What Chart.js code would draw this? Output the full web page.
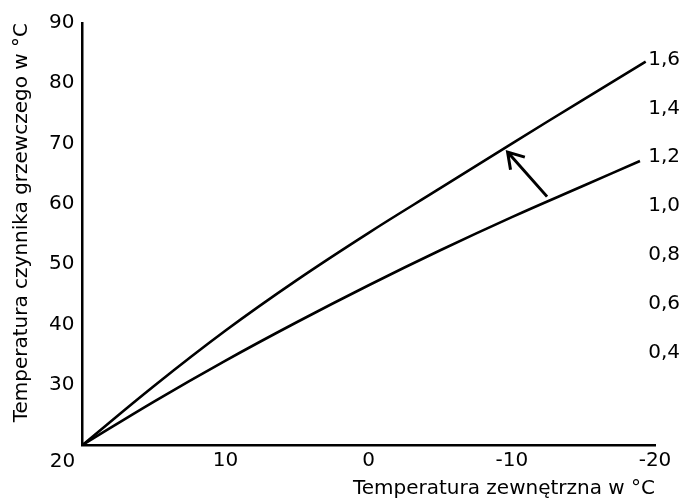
<!DOCTYPE html>
<html>
<head>
<meta charset="utf-8">
<script src="https://cdn.jsdelivr.net/npm/chart.js@4"></script>
<style>
  html, body { margin: 0; padding: 0; background: #fff; }
  #wrap { width: 685px; height: 501px; }
</style>
</head>
<body>
<div id="wrap"><canvas id="chart"></canvas></div>
<script>
// heating curves: outdoor temp -> supply temp
const outdoorTemps16 = [20, 15, 10, 5, 0, -5, -10, -15, -19.35];
const supplyTemps16 = [20, 29.8, 39.0, 47.4, 55.2, 62.6, 70.0, 77.3, 83.6];
const outdoorTemps12 = [20, 15, 10, 5, 0, -5, -10, -15, -18.95];
const supplyTemps12 = [20, 27.2, 34.0, 40.4, 46.5, 52.3, 57.8, 63.0, 67.1];

const curveSlopes = [0.4, 0.6, 0.8, 1.0, 1.2, 1.4, 1.6];
const xTicks = [20, 10, 0, -10, -20];
const yTicks = [20, 30, 40, 50, 60, 70, 80, 90];

const arrowFrom = { x: -12.46, y: 61.2 };
const arrowTo = { x: -9.7, y: 68.6 };

const ink = '#000';
Chart.defaults.font.family = 'DejaVu Sans';
Chart.defaults.font.size = 20;
Chart.defaults.color = ink;

function toPoints(xs, ys) {
  return xs.map((x, i) => ({ x, y: ys[i] }));
}

const extras = {
  id: 'extras',
  afterDatasetsDraw(chart) {
    const { ctx, scales: { x, y } } = chart;
    ctx.save();
    // arrow between the curves
    const x1 = x.getPixelForValue(arrowFrom.x);
    const y1 = y.getPixelForValue(arrowFrom.y);
    const x2 = x.getPixelForValue(arrowTo.x);
    const y2 = y.getPixelForValue(arrowTo.y);
    const ang = Math.atan2(y1 - y2, x1 - x2);
    const len = 18;
    const spread = 0.56;
    ctx.strokeStyle = ink;
    ctx.lineWidth = 3;
    ctx.beginPath();
    ctx.moveTo(x1, y1);
    ctx.lineTo(x2, y2);
    ctx.moveTo(x2 + len * Math.cos(ang - spread), y2 + len * Math.sin(ang - spread));
    ctx.lineTo(x2, y2);
    ctx.lineTo(x2 + len * Math.cos(ang + spread), y2 + len * Math.sin(ang + spread));
    ctx.stroke();

    // shared origin label
    ctx.fillStyle = ink;
    ctx.font = '20px "DejaVu Sans"';
    ctx.textAlign = 'center';
    ctx.textBaseline = 'middle';
    ctx.fillText('20', x.getPixelForValue(xTicks[0]) - 20, y.getPixelForValue(yTicks[0]) + 17);
    ctx.restore();
  }
};

new Chart(document.getElementById('chart'), {
  type: 'line',
  data: {
    datasets: [
      {
        label: '1,6',
        data: toPoints(outdoorTemps16, supplyTemps16),
        borderColor: ink,
        borderWidth: 2.6,
        pointRadius: 0,
        tension: 0.4
      },
      {
        label: '1,2',
        data: toPoints(outdoorTemps12, supplyTemps12),
        borderColor: ink,
        borderWidth: 2.6,
        pointRadius: 0,
        tension: 0.4
      }
    ]
  },
  options: {
    responsive: true,
    maintainAspectRatio: false,
    animation: false,
    events: [],
    layout: { padding: { left: 8, top: 23, right: 0, bottom: 0 } },
    plugins: { legend: { display: false }, tooltip: { enabled: false } },
    scales: {
      x: {
        type: 'linear',
        reverse: true,
        min: -20,
        max: 20,
        afterBuildTicks: (s) => { s.ticks = xTicks.map((v) => ({ value: v })); },
        ticks: {
          autoSkip: false,
          maxRotation: 0,
          padding: 6,
          font: { lineHeight: 1 },
          callback: (v) => (v === 20 ? '' : String(v))
        },
        grid: { display: false, drawTicks: false },
        border: { color: ink, width: 2.5 }
      },
      // second bottom axis only carries the title, right-aligned
      xTitle: {
        type: 'linear',
        position: 'bottom',
        min: -20,
        max: 20,
        ticks: { display: false },
        grid: { display: false, drawTicks: false },
        border: { display: false },
        title: {
          display: true,
          text: 'Temperatura zewnętrzna w °C',
          align: 'end',
          padding: { top: 0, bottom: 0 }
        }
      },
      y: {
        min: 20,
        max: 90,
        afterBuildTicks: (s) => { s.ticks = yTicks.map((v) => ({ value: v })); },
        ticks: {
          padding: 8,
          callback: (v) => (v === 20 ? '' : String(v))
        },
        grid: { display: false, drawTicks: false },
        border: { color: ink, width: 2.5 },
        title: {
          display: true,
          text: 'Temperatura czynnika grzewczego w °C',
          align: 'end',
          padding: { top: 2, bottom: 7 }
        }
      },
      // curve labels drawn just past the end of the x axis
      y2: {
        position: 'right',
        min: 0.02,
        max: 1.75,
        afterBuildTicks: (s) => { s.ticks = curveSlopes.map((v) => ({ value: v })); },
        afterFit: (s) => {
          s.width = 30;
          s.paddingTop = 12;
          s.paddingBottom = 12;
        },
        ticks: {
          mirror: true,
          crossAlign: 'near',
          padding: 25,
          callback: (v) => v.toFixed(1).replace('.', ',')
        },
        grid: { display: false, drawTicks: false },
        border: { display: false }
      }
    }
  },
  plugins: [extras]
});
</script>
</body>
</html>
